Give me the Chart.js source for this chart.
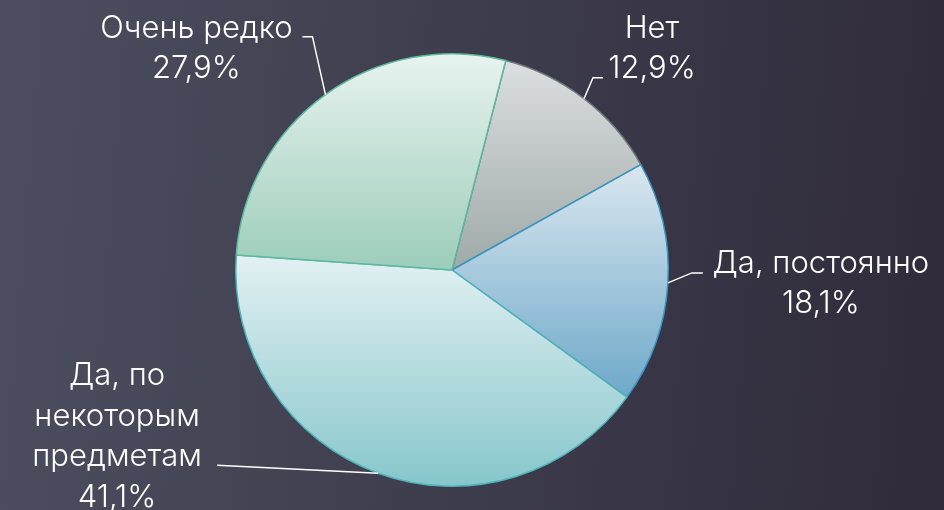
<!DOCTYPE html>
<html>
<head>
<meta charset="utf-8">
<script src="https://cdn.jsdelivr.net/npm/chart.js@4/dist/chart.umd.min.js"></script>
<style>
  html, body { margin: 0; padding: 0; background: #3e3e4e; }
  #wrap { width: 944px; height: 510px; position: relative; }
</style>
</head>
<body>
<div id="wrap"><canvas id="c" width="944" height="510"></canvas></div>
<script>
// ---- data ----
const categories = ['Нет', 'Да, постоянно', 'Да, по некоторым предметам', 'Очень редко'];
const values = [12.9, 18.1, 41.1, 27.9];
const valueLabels = ['12,9%', '18,1%', '41,1%', '27,9%'];
const labelLines = [['Нет'], ['Да, постоянно'], ['Да, по', 'некоторым', 'предметам'], ['Очень редко']];

// ---- styles ----
const rotationDeg = 14.4;
const topColors    = ['#dcdfdf', '#dae7f0', '#e3f1f3', '#e8f3ef'];
const bottomColors = ['#9eaaa8', '#6ea8c9', '#86c6cb', '#9ccdbb'];
const borderColors = ['#6f7c7c', '#3896bf', '#4cb3b8', '#5db89c'];
const FONT = '300 31px Inter, "DejaVu Sans", sans-serif';
const LINE_H = 40.5;
// label layout, relative to the slice's outer mid-point: elbow, stub end, text centre / first baseline
const labelLayout = [
  { elbow: [9, -21],   stub: [19, -21],  text: [68, -61] },
  { elbow: [24, -10],  stub: [35, -10],  text: [153, -10] },
  { elbow: [-161, -8], stub: [-161, -8], text: [-261, -88] },
  { elbow: [-13, -58], stub: [-23, -58], text: [-129, -57] }
];

function sliceGradient(ctx) {
  const chart = ctx.chart;
  const area = chart.chartArea;
  const i = ctx.dataIndex;
  if (!area || i === undefined) return topColors[i || 0];
  const total = values.reduce((a, b) => a + b, 0);
  let start = -Math.PI / 2 + rotationDeg * Math.PI / 180;
  for (let k = 0; k < i; k++) start += values[k] / total * 2 * Math.PI;
  const end = start + values[i] / total * 2 * Math.PI;
  const cx = (area.left + area.right) / 2, cy = (area.top + area.bottom) / 2;
  const r = Math.min(area.width, area.height) / 2;
  const ys = [cy, cy + r * Math.sin(start), cy + r * Math.sin(end)];
  for (const a of [-Math.PI / 2, Math.PI / 2, 3 * Math.PI / 2, 5 * Math.PI / 2]) {
    if (a > start && a < end) ys.push(cy + r * Math.sin(a));
  }
  const top = Math.min(...ys), bottom = Math.max(...ys);
  const g = chart.ctx.createLinearGradient(0, top, 0, bottom);
  g.addColorStop(0, topColors[i]);
  g.addColorStop(1, bottomColors[i]);
  return g;
}

const bgPlugin = {
  id: 'bg',
  beforeDraw(chart) {
    const c = chart.ctx;
    const g = c.createLinearGradient(0, 0, chart.width, chart.height * 0.15);
    g.addColorStop(0, '#4c4e5f');
    g.addColorStop(1, '#302c3c');
    c.save();
    c.fillStyle = g;
    c.fillRect(0, 0, chart.width, chart.height);
    c.restore();
  }
};

const labelPlugin = {
  id: 'labels',
  afterDatasetsDraw(chart) {
    const c = chart.ctx;
    const meta = chart.getDatasetMeta(0);
    c.save();
    meta.data.forEach((arc, i) => {
      const p = arc.getProps(['x', 'y', 'startAngle', 'endAngle', 'outerRadius'], true);
      const mid = (p.startAngle + p.endAngle) / 2;
      const ex = p.x + Math.cos(mid) * p.outerRadius;
      const ey = p.y + Math.sin(mid) * p.outerRadius;
      const L = labelLayout[i];
      c.strokeStyle = '#ffffff';
      c.lineWidth = 1.5;
      c.beginPath();
      c.moveTo(ex, ey);
      c.lineTo(ex + L.elbow[0], ey + L.elbow[1]);
      c.lineTo(ex + L.stub[0], ey + L.stub[1]);
      c.stroke();
      const lines = labelLines[i].concat([valueLabels[i]]);
      c.fillStyle = '#ffffff';
      c.font = FONT;
      c.textAlign = 'center';
      c.textBaseline = 'alphabetic';
      lines.forEach((t, j) => {
        c.fillText(t, ex + L.text[0], ey + L.text[1] + j * LINE_H);
      });
    });
    c.restore();
  }
};

new Chart(document.getElementById('c'), {
  type: 'pie',
  data: {
    labels: categories,
    datasets: [{
      data: values,
      backgroundColor: sliceGradient,
      borderColor: borderColors,
      borderWidth: 1.5
    }]
  },
  options: {
    responsive: false,
    animation: false,
    events: [],
    rotation: rotationDeg,
    layout: { padding: { left: 100, right: 140, top: 53, bottom: 23 } },
    plugins: { legend: { display: false }, tooltip: { enabled: false } }
  },
  plugins: [bgPlugin, labelPlugin]
});
</script>
</body>
</html>
